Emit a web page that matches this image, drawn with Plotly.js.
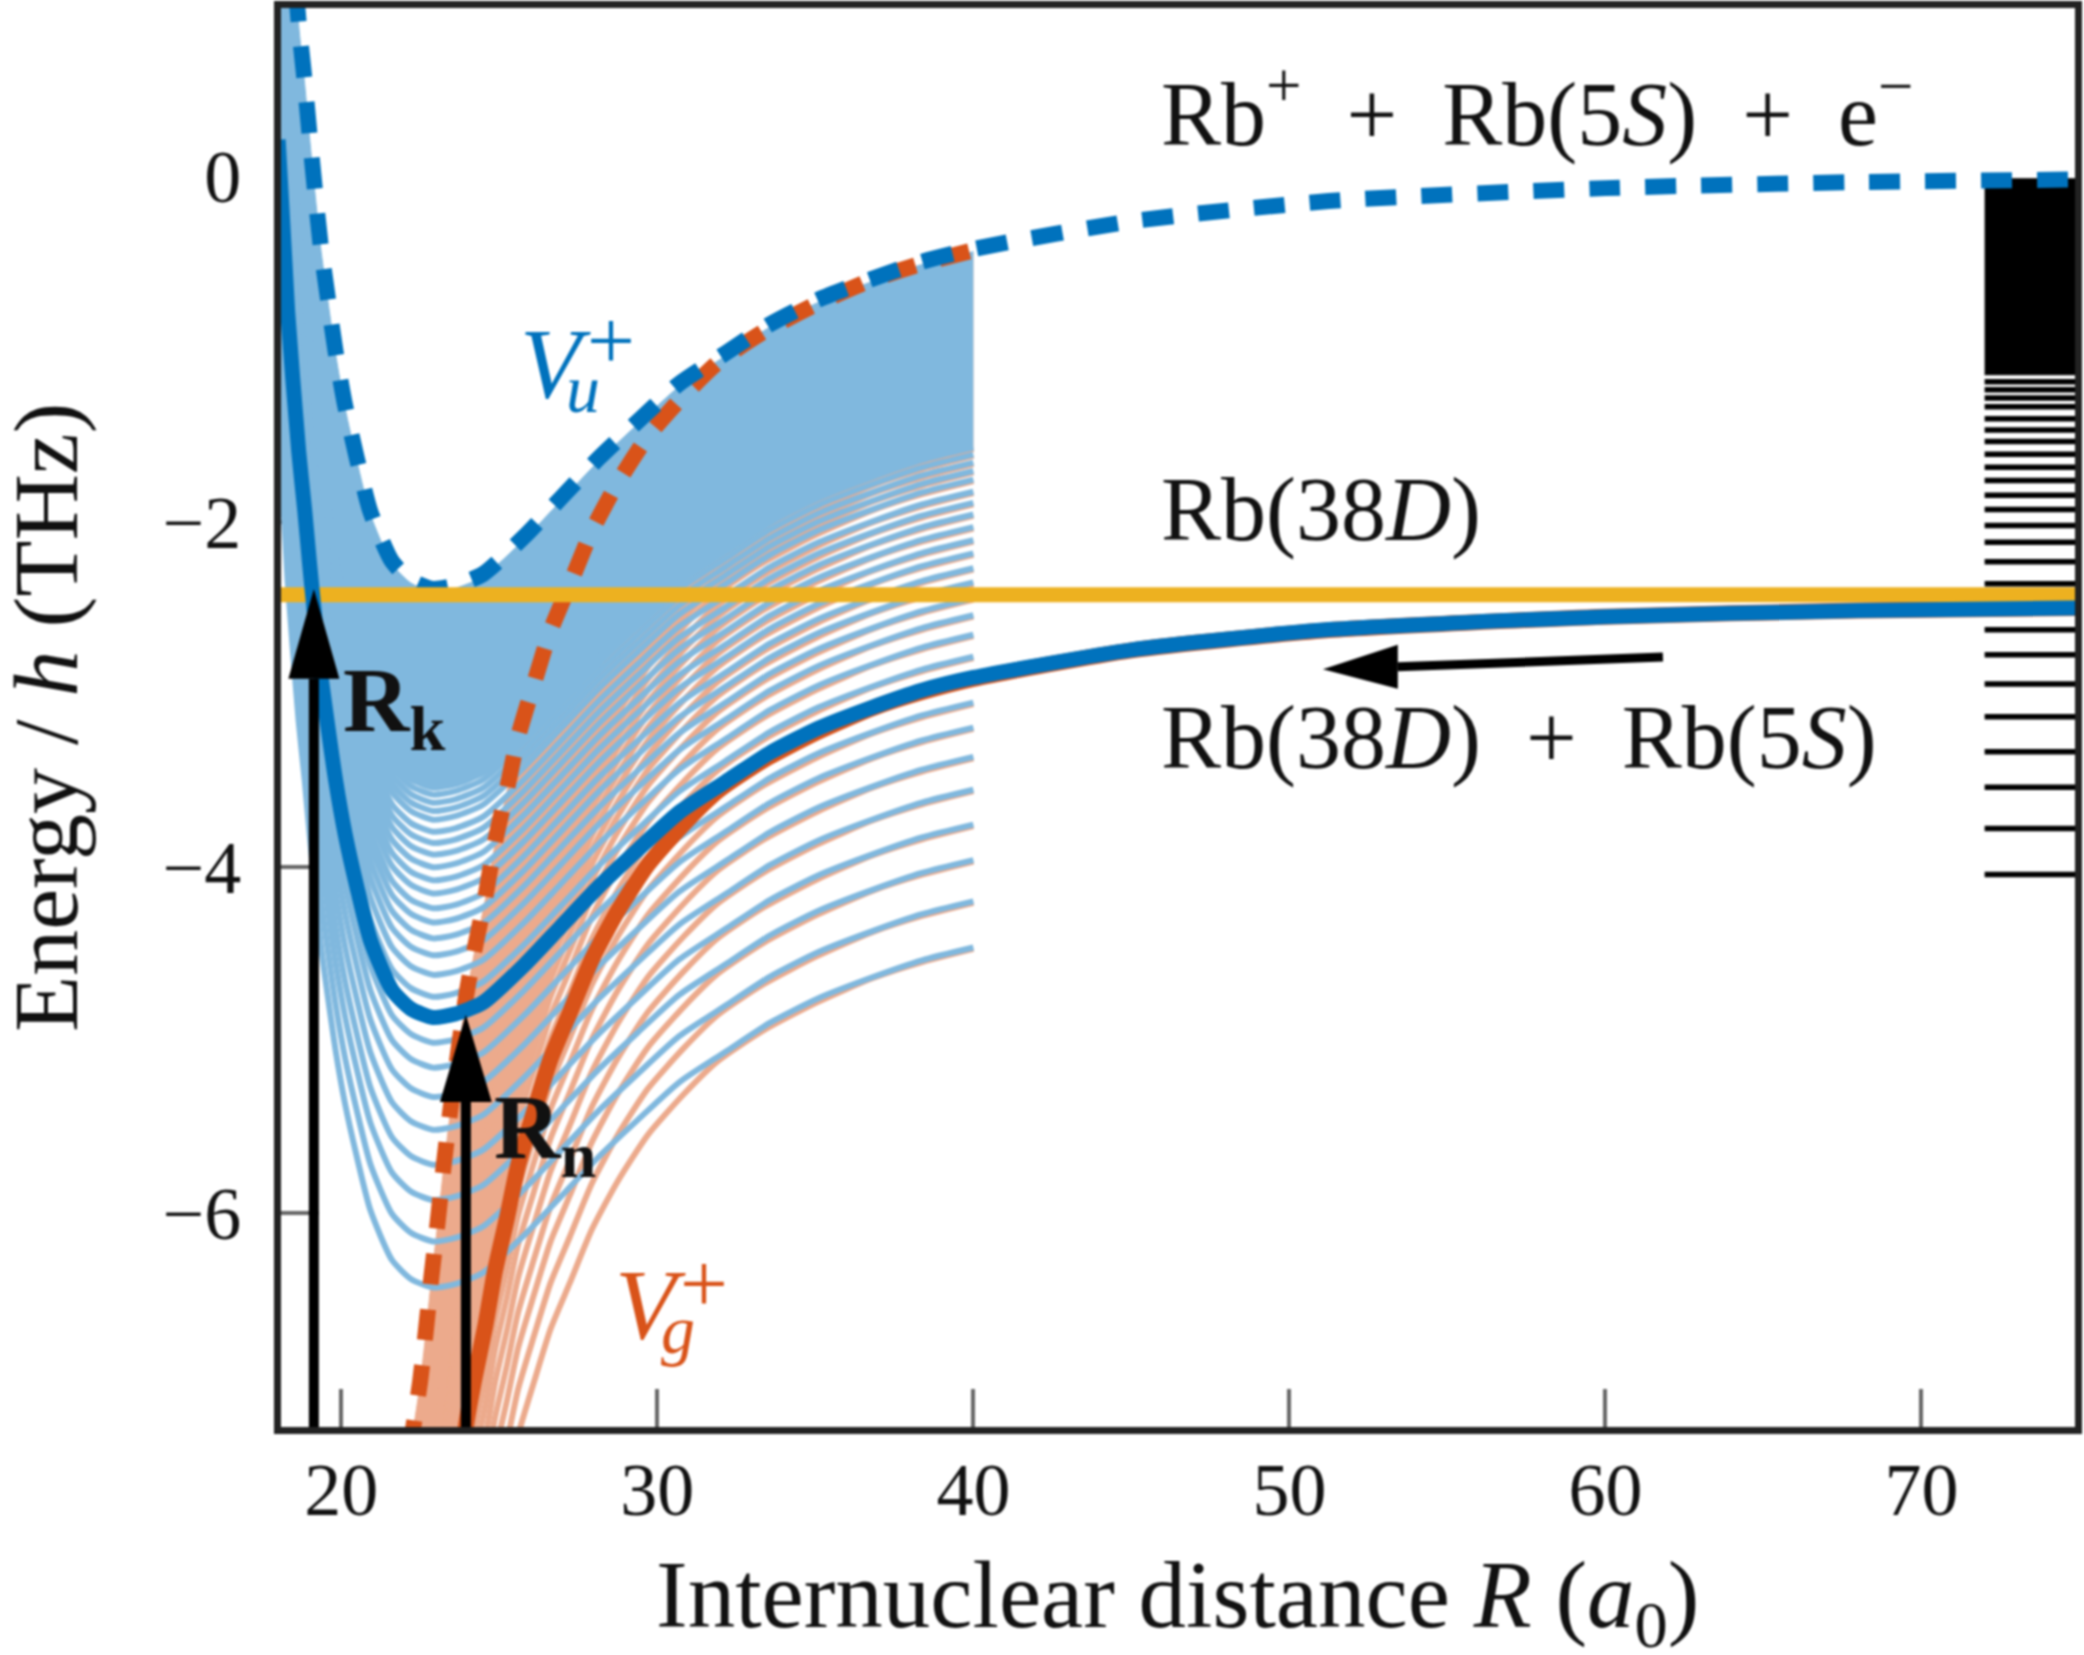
<!DOCTYPE html>
<html><head><meta charset="utf-8">
<script src="https://cdn.plot.ly/plotly-3.0.1.min.js"></script>
<style>html,body{margin:0;padding:0;background:#fff}#c{width:2084px;height:1655px;filter:blur(1.3px)}</style>
</head><body><div id="c"></div>
<script>
// Ion-pair potential V_u+
const Ru = [18,18.3,18.65,18.84,18.99,19.16,19.34,19.57,19.82,20.12,20.49,20.92,21.6,22.2,22.9,23.6,24.48,25.78,26.93,28.16,29.39,30.69,32.16,33.57,35.1,36.76,38.37,40,45,51.25,60,68,75];
const Vu = [2.69,1.7,0.886,0.546,0.245,-0.074,-0.393,-0.703,-1.019,-1.329,-1.633,-1.943,-2.23,-2.34,-2.39,-2.37,-2.304,-2.088,-1.867,-1.63,-1.418,-1.202,-1.025,-0.857,-0.715,-0.597,-0.496,-0.422,-0.262,-0.145,-0.07,-0.035,-0.02];
// Ion-pair potential V_g+
const Rg = [21.9,22.26,22.49,22.67,22.85,23.05,23.23,23.44,23.94,24.2,24.56,24.86,25.24,25.6,26.09,26.62,27.23,27.93,28.75,29.7,30.84,31.92,33.37,35.05,36.8,38.4,40,45,51.25,60,68,75];
const Vg = [-7.7,-7.26,-6.98,-6.69,-6.37,-6.05,-5.74,-5.42,-4.755,-4.49,-4.17,-3.857,-3.55,-3.24,-2.94,-2.63,-2.363,-2.053,-1.773,-1.506,-1.27,-1.078,-0.9,-0.739,-0.6,-0.505,-0.43,-0.265,-0.148,-0.07,-0.035,-0.02];
// Rydberg levels (THz)
const levels = [-4.043,-3.776,-3.537,-3.332,-3.13,-2.94,-2.77,-2.626,-2.36,-2.233,-2.12,-2.022,-1.93,-1.848,-1.762,-1.686,-1.61,-1.537,-1.47,-1.405,-1.335,-1.285,-1.237,-1.19];
const denseTop = -0.016, denseBottom = -1.15;  // unresolved part of the Rydberg series
const level38D = -2.48;                        // Rb(38D) + Rb(5S) asymptote
const goldLevel = -2.424;                      // Rb(38D) line
const familyEnd = 40, stairStart = 72, stairEnd = 75, xMin = 18, xMax = 75;
const xRange = [18.09,74.86], yRange = [-7.24,0.9725];
const xTicks = [20,30,40,50,60,70];
const yTicks = [0,-2,-4,-6];
const arrowK = {R:19.13, tip:-2.39, base:-2.909, half:0.807};
const arrowN = {R:23.94, tip:-4.854, base:-5.359, half:0.82};
const arrowH = {tail:[61.82,-2.784], base:[53.43,-2.84], tip:[51.06,-2.854], half:0.127};

const BLUE='#0072bd', ORANGE='#d95319', GOLD='#edb120', LBLUE='#80b8de', LORANGE='#ecaa8c';
const FONT='"Liberation Serif", serif';

function shifted(R,V,off,end){const x=[],y=[];R.forEach((r,i)=>{if(r<=end){x.push(r);y.push(V[i]+off);}});return {x,y};}
function line(d,color,width,dash,extra){return Object.assign({type:'scatter',mode:'lines',x:d.x,y:d.y,hoverinfo:'skip',showlegend:false,line:{color,width,dash:dash||'solid',shape:'spline',smoothing:0.6}},extra||{});}
function family(R,V,color){
  const out=[];
  out.push(line(shifted(R,V,denseBottom,familyEnd),color,6));
  out.push(line(shifted(R,V,denseTop,familyEnd),color,1,null,{fill:'tonexty',fillcolor:color}));
  levels.forEach(l=>out.push(line(shifted(R,V,l,familyEnd),color,6)));
  return out;
}
const stairX=[],stairY=[];
levels.forEach(l=>{stairX.push(stairStart,stairEnd,null);stairY.push(l,l,null);});
const traces=[
  ...family(Rg,Vg,LORANGE),
  ...family(Ru,Vu,LBLUE),
  {type:'scatter',mode:'lines',x:stairX,y:stairY,line:{color:'#000',width:5.5},hoverinfo:'skip',showlegend:false},
  {type:'scatter',mode:'lines',x:[stairStart,stairEnd],y:[denseBottom,denseBottom],line:{color:'#000',width:1},hoverinfo:'skip',showlegend:false},
  {type:'scatter',mode:'lines',x:[stairStart,stairEnd],y:[denseTop,denseTop],line:{color:'#000',width:1},fill:'tonexty',fillcolor:'#000',hoverinfo:'skip',showlegend:false},
  line(shifted(Rg,Vg,0,familyEnd),ORANGE,16,'31px,25px'),
  line({x:Ru,y:Vu},BLUE,16,'31px,25px'),
  line(shifted(Rg,Vg,level38D,xMax),ORANGE,16),
  {type:'scatter',mode:'lines',x:[xMin,xMax],y:[goldLevel,goldLevel],line:{color:GOLD,width:15},hoverinfo:'skip',showlegend:false},
  line(shifted(Ru,Vu,level38D,xMax),BLUE,15),
];
function upArrow(a){return [
  {type:'line',xref:'x',yref:'y',x0:a.R,x1:a.R,y0:yRange[0],y1:a.base,line:{color:'#000',width:10}},
  {type:'path',xref:'x',yref:'y',path:`M${a.R-a.half},${a.base} L${a.R+a.half},${a.base} L${a.R},${a.tip} Z`,fillcolor:'#000',line:{width:0}}
];}
const h=arrowH;
const shapes=[...upArrow(arrowK),...upArrow(arrowN),
  {type:'line',xref:'x',yref:'y',x0:h.tail[0],y0:h.tail[1],x1:h.base[0],y1:h.base[1],line:{color:'#000',width:9}},
  {type:'path',xref:'x',yref:'y',path:`M${h.base[0]},${h.base[1]-h.half} L${h.base[0]},${h.base[1]+h.half} L${h.tip[0]},${h.tip[1]} Z`,fillcolor:'#000',line:{width:0}}
];
function px(x){return 20+(x-341.4)/31.6;}
function py(y){return (176-y)/172.75;}
function note(text,x,base,size,color){
  return {text,xref:'x',yref:'y',x:px(x),y:py(base+size*0.22),xanchor:'left',yanchor:'bottom',showarrow:false,borderpad:0,
    font:{family:FONT,size,color:color||'#111'}};
}
const annotations=[
  note('Rb<sup>+</sup>\u2002+\u2002Rb(5<i>S</i>)\u2002+\u2002e<sup>−</sup>',1160,146,90),
  note('Rb(38<i>D</i>)',1160,541,90),
  note('Rb(38<i>D</i>)\u2002+\u2002Rb(5<i>S</i>)',1160,769,90),
  note('<b>R<sub>k</sub></b>',342,745,92),
  note('<b>R<sub>n</sub></b>',493,1172,92),
  note('<i>V</i>',519,398,100,BLUE),
  note('+',586,369,85,BLUE),
  note('<i>u</i>',565,413,68,BLUE),
  note('<i>V</i>',614,1339,100,ORANGE),
  note('+',679,1312,85,ORANGE),
  note('<i>g</i>',660,1354,68,ORANGE),
  // axis titles, placed in page pixels converted to paper fractions
  {text:'Internuclear distance <i>R</i> (<i>a</i><sub>0</sub>)',xref:'paper',yref:'paper',x:(1177-281)/1794,y:(1427-1602)/1419,xanchor:'center',yanchor:'middle',showarrow:false,borderpad:0,font:{family:FONT,size:95,color:'#111'}},
  {text:'Energy / <i>h</i> (THz)',xref:'paper',yref:'paper',x:(46-281)/1794,y:(1427-718)/1419,xanchor:'center',yanchor:'middle',textangle:-90,showarrow:false,borderpad:0,font:{family:FONT,size:92,color:'#111'}},
];
const ax={showgrid:false,zeroline:false,ticks:'inside',ticklen:38,tickwidth:4,tickcolor:'#666',showline:true,linewidth:7,linecolor:'#222',mirror:true,layer:'below traces',tickfont:{family:FONT,size:74,color:'#111'}};
const layout={
  width:2084,height:1655,margin:{l:281,r:9,t:8,b:228},paper_bgcolor:'#fff',plot_bgcolor:'#fff',showlegend:false,
  xaxis:Object.assign({},ax,{range:xRange,tickvals:xTicks,ticktext:xTicks.map(String),ticklabelstandoff:-8}),
  yaxis:Object.assign({},ax,{range:yRange,tickvals:yTicks,ticktext:yTicks.map(v=>v<0?'−'+(-v):String(v)),ticklabelstandoff:18}),
  shapes,annotations
};
Plotly.newPlot('c',traces,layout,{displayModeBar:false,staticPlot:true});
</script></body></html>
